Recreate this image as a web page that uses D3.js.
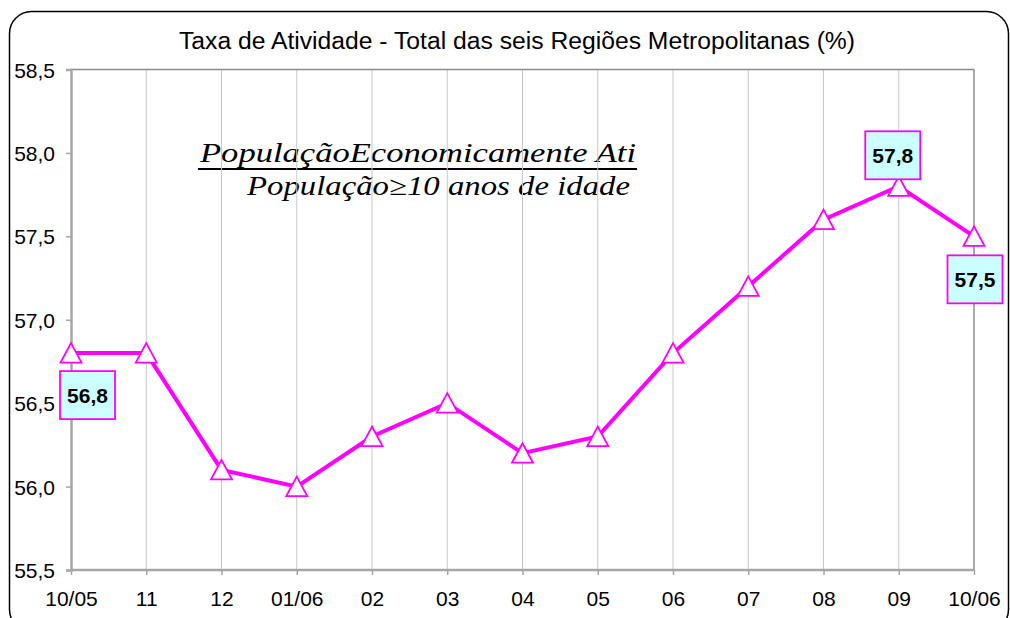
<!DOCTYPE html>
<html><head><meta charset="utf-8">
<script src="https://cdn.jsdelivr.net/npm/d3@7"></script>
<style>html,body{margin:0;padding:0;background:#fff;}svg{display:block;}</style>
</head><body>
<script>
const categories = ["10/05","11","12","01/06","02","03","04","05","06","07","08","09","10/06"];
const values = [56.8,56.8,56.1,56.0,56.3,56.5,56.2,56.3,56.8,57.2,57.6,57.8,57.5];
const yTicks = [55.5,56.0,56.5,57.0,57.5,58.0,58.5];
const labeledIdx = [0,11,12];
const title = "Taxa de Atividade - Total das seis Regiões Metropolitanas (%)";
const numeratorText = "PopulaçãoEconomicamente Ati";
const denominatorText = "População≥10 anos de idade";

(function(){
const W = 1010, H = 618;
const sans = "'Liberation Sans', Arial, sans-serif";
const serif = "'Liberation Serif', 'Times New Roman', serif";
const svg = d3.select("body").append("svg").attr("width", W).attr("height", H);

// outer rounded frame
svg.append("rect").attr("x", 9.5).attr("y", 11.5).attr("width", 999).attr("height", 620)
  .attr("rx", 22).attr("ry", 22).attr("fill", "#fff").attr("stroke", "#000").attr("stroke-width", 1.5);

const pLeft = 71, pRight = 974, pTop = 69.5, pBottom = 570;
const x = d3.scalePoint().domain(categories).range([pLeft, pRight]);
const y = d3.scaleLinear().domain([55.5, 58.5]).range([pBottom, pTop]);
const fmt = d => d.toFixed(1).replace(".", ",");

// formula (under the gridlines, as in the reference)
const fg = svg.append("g").style("font-family", serif)
  .style("font-style", "italic").attr("fill", "#000");
fg.append("text").attr("x", 200).attr("y", 162).style("font-size", "27.5px")
  .attr("textLength", 436).attr("lengthAdjust", "spacingAndGlyphs").text(numeratorText);
fg.append("line").attr("x1", 198).attr("x2", 637).attr("y1", 169).attr("y2", 169)
  .attr("stroke", "#000").attr("stroke-width", 2);
fg.append("text").attr("x", 247).attr("y", 195).style("font-size", "27px")
  .attr("textLength", 383).attr("lengthAdjust", "spacingAndGlyphs").text(denominatorText);

// vertical gridlines
svg.append("g").selectAll("line").data(categories.slice(1, -1)).join("line")
  .attr("x1", d => x(d)).attr("x2", d => x(d)).attr("y1", pTop).attr("y2", pBottom)
  .attr("stroke", "#c8c8c8").attr("stroke-width", 1);

// plot border top/right
svg.append("line").attr("x1", pLeft).attr("x2", pRight).attr("y1", pTop).attr("y2", pTop)
  .attr("stroke", "#8c8c8c").attr("stroke-width", 1.5);
svg.append("line").attr("x1", pRight).attr("x2", pRight).attr("y1", pTop).attr("y2", pBottom)
  .attr("stroke", "#8c8c8c").attr("stroke-width", 1.5);

// y axis
const yAxis = d3.axisLeft(y).tickValues(yTicks).tickFormat(fmt).tickSize(5).tickPadding(11);
const gy = svg.append("g").attr("transform", `translate(${pLeft},0)`).call(yAxis);
gy.select(".domain").attr("stroke", "#a6a6a6").attr("stroke-width", 2.5);
gy.selectAll(".tick line").attr("stroke", "#a6a6a6").attr("stroke-width", 1.5);
gy.selectAll(".tick text").style("font-family", sans)
  .style("font-size", "21px").attr("fill", "#000").attr("dy", "0.36em");

// x axis
const xAxis = d3.axisBottom(x).tickSize(5).tickPadding(16);
const gx = svg.append("g").attr("transform", `translate(0,${pBottom})`).call(xAxis);
gx.select(".domain").attr("stroke", "#a6a6a6").attr("stroke-width", 2.5).attr("d", `M${pLeft},0H${pRight}`);
gx.selectAll(".tick line").attr("stroke", "#a6a6a6").attr("stroke-width", 1.5);
gx.selectAll(".tick text").style("font-family", sans)
  .style("font-size", "21px").attr("fill", "#000");

// title
svg.append("text").attr("x", 517).attr("y", 49).attr("text-anchor", "middle")
  .style("font-family", sans).style("font-size", "24.7px").attr("fill", "#000")
  .text(title);

// line
const pts = categories.map((c, i) => ({c, v: values[i], i}));
svg.append("path").datum(pts)
  .attr("d", d3.line().x(d => x(d.c)).y(d => y(d.v)))
  .attr("fill", "none").attr("stroke", "#ff00ff").attr("stroke-width", 4).attr("stroke-linejoin", "miter");

// markers (triangles)
const tri = "M0,-10L10.5,9.5L-10.5,9.5Z";
svg.append("g").selectAll("path").data(pts).join("path")
  .attr("d", tri).attr("transform", d => `translate(${x(d.c)},${y(d.v)})`)
  .attr("fill", "#fff").attr("stroke", "#ff00ff").attr("stroke-width", 1.8);

// data labels
const offsets = {0: [16.5, 42], 11: [-6, -31], 12: [1, 43]};
const lg = svg.append("g").selectAll("g").data(pts.filter(d => labeledIdx.includes(d.i))).join("g")
  .attr("transform", d => `translate(${x(d.c) + offsets[d.i][0]},${y(d.v) + offsets[d.i][1]})`);
lg.append("rect").attr("x", -27.5).attr("y", -24).attr("width", 55).attr("height", 48)
  .attr("fill", "#ccffff").attr("stroke", "#ff00ff").attr("stroke-width", 1.8);
lg.append("text").attr("text-anchor", "middle").attr("dy", "0.36em")
  .style("font-family", sans).style("font-weight", "bold")
  .style("font-size", "21px").attr("fill", "#000").text(d => fmt(d.v));
})();
</script>
</body></html>
